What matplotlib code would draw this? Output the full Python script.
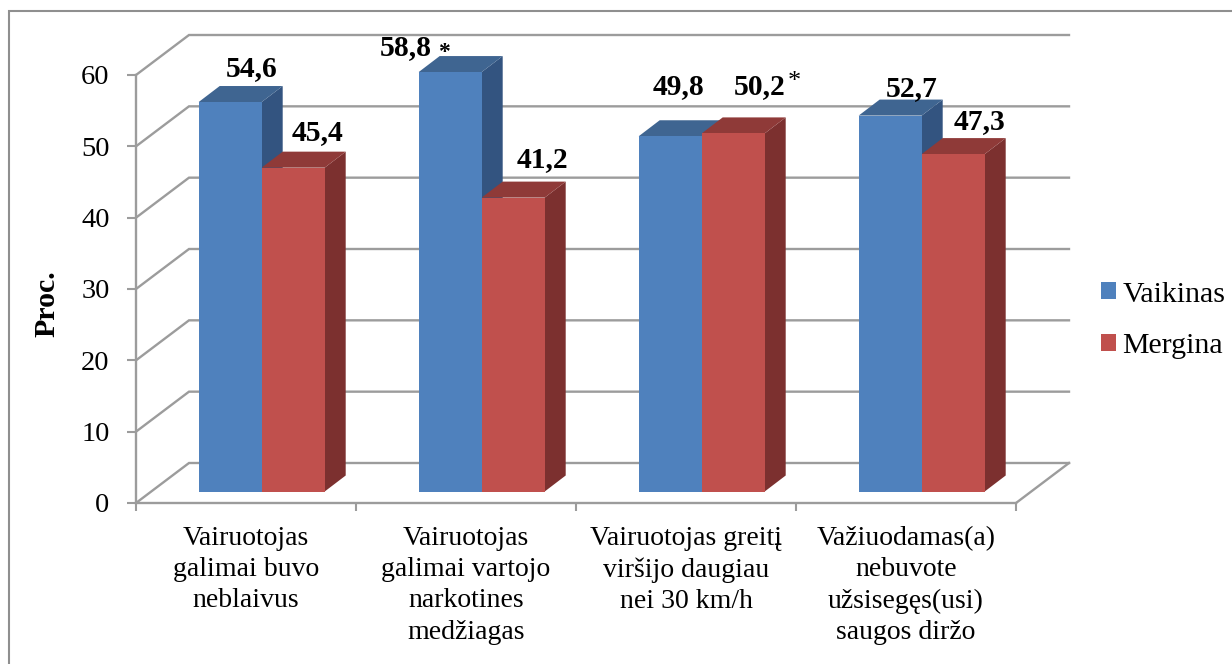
import matplotlib
matplotlib.use("Agg")
import matplotlib.pyplot as plt
from matplotlib.patches import Polygon, Rectangle

categories = [
    "Vairuotojas\ngalimai buvo\nneblaivus",
    "Vairuotojas\ngalimai vartojo\nnarkotines\nmedžiagas",
    "Vairuotojas greitį\nviršijo daugiau\nnei 30 km/h",
    "Važiuodamas(a)\nnebuvote\nužsisegęs(usi)\nsaugos diržo",
]
vaikinas = [54.6, 58.8, 49.8, 52.7]
mergina = [45.4, 41.2, 50.2, 47.3]
labels_v = ["54,6", "58,8", "49,8", "52,7"]
labels_m = ["45,4", "41,2", "50,2", "47,3"]
y_ticks = [0, 10, 20, 30, 40, 50, 60]

W, H = 1232, 664
GREY = "#9c9c9c"
BLUE, BLUE_TOP, BLUE_SIDE = "#4f81bd", "#3f6591", "#335480"
RED, RED_TOP, RED_SIDE = "#c0504d", "#8f3a38", "#7c302f"

plt.rcParams["font.family"] = ["Liberation Serif", "DejaVu Serif"]

fig = plt.figure(figsize=(W / 100, H / 100), dpi=100)
fig.patch.set_facecolor("white")
# front plane of the fake 3d box
ax = fig.add_axes([136 / W, 1 - 503 / H, 880 / W, 428 / H])
ax.set_xlim(0, 4)
ax.set_ylim(0, 60)
ax.patch.set_alpha(0)

px_x = 4 / 880
px_y = 60 / 428
wall_dx, wall_dy = 53 * px_x, 40 * px_y
bar_w = 63 * px_x
base_dx, base_dy = 15 * px_x, 11.5 * px_y
depth_dx, depth_dy = 21 * px_x, 16 * px_y
gap = 47.7 * px_x

# walls
for v in y_ticks:
    ax.plot([0, wall_dx, 4 + wall_dx], [v, v + wall_dy, v + wall_dy],
            color=GREY, lw=1.7, clip_on=False, zorder=1, solid_joinstyle="miter")
ax.plot([4, 4 + wall_dx], [0, wall_dy], color=GREY, lw=1.7, clip_on=False, zorder=1)


def draw_bar(x, v, front, top, side):
    y0 = base_dy
    y1 = base_dy + v
    x1 = x + bar_w
    ax.add_patch(Polygon([(x1, y0), (x1 + depth_dx, y0 + depth_dy),
                          (x1 + depth_dx, y1 + depth_dy), (x1, y1)],
                         fc=side, ec="none", clip_on=False, zorder=3))
    ax.add_patch(Polygon([(x, y1), (x + depth_dx, y1 + depth_dy),
                          (x1 + depth_dx, y1 + depth_dy), (x1, y1)],
                         fc=top, ec="none", clip_on=False, zorder=3))
    ax.bar(x, v, bar_w, bottom=y0, align="edge", color=front, clip_on=False, zorder=3)


for i in range(4):
    x = i + base_dx + gap
    draw_bar(x, vaikinas[i], BLUE, BLUE_TOP, BLUE_SIDE)
    draw_bar(x + bar_w, mergina[i], RED, RED_TOP, RED_SIDE)

# value labels sit by hand around the bars, offsets in pixels
off_v = [(21, 25.5), (-44, 17), (8, 42), (21, 20)]
off_m = [(24, 27.5), (29, 31), (26.5, 39), (26, 25.5)]
for i in range(4):
    x = i + base_dx + gap + bar_w / 2
    ax.annotate(labels_v[i], (x, base_dy + vaikinas[i]), xytext=off_v[i],
                textcoords="offset pixels", ha="center", va="baseline",
                fontsize=21.3, fontweight="bold", color="black", zorder=5,
                annotation_clip=False)
    ax.annotate(labels_m[i], (x + bar_w, base_dy + mergina[i]), xytext=off_m[i],
                textcoords="offset pixels", ha="center", va="baseline",
                fontsize=21.3, fontweight="bold", color="black", zorder=5,
                annotation_clip=False)

# asterisks next to two of the labels
ax.annotate("*", (1 + base_dx + gap + bar_w / 2, base_dy + vaikinas[1]), xytext=(-6, 14),
            textcoords="offset pixels", ha="center", va="baseline", fontsize=17,
            fontweight="bold", annotation_clip=False)
ax.annotate("*", (2 + base_dx + gap + bar_w * 1.5, base_dy + mergina[2]), xytext=(61, 45),
            textcoords="offset pixels", ha="center", va="baseline", fontsize=19,
            annotation_clip=False)

for s in ["top", "right"]:
    ax.spines[s].set_visible(False)
for s in ["left", "bottom"]:
    ax.spines[s].set_color(GREY)
    ax.spines[s].set_linewidth(1.7)
    ax.spines[s].set_zorder(2)

ax.set_yticks(y_ticks)
ax.tick_params(axis="y", length=6.5, width=1.5, color=GREY, pad=12.5, labelsize=20.5)
ax.set_xticks([0.5, 1.5, 2.5, 3.5])
ax.set_xticklabels(categories, fontsize=20, linespacing=1.33, va="top")
ax.set_xticks([0, 1, 2, 3, 4], minor=True)
ax.tick_params(axis="x", which="major", length=0, pad=16.5)
ax.tick_params(axis="x", which="minor", length=6, width=1.5, color=GREY)

fig.text(47 / W, 1 - 304 / H, "Proc.", rotation=90, ha="center", va="center",
         fontsize=21.5, fontweight="bold")

handles = [Rectangle((0, 0), 1, 1, fc=BLUE), Rectangle((0, 0), 1, 1, fc=RED)]
fig.legend(handles, ["Vaikinas", "Mergina"], loc="center left",
           bbox_to_anchor=(1101 / W, 1 - 320.5 / H), frameon=False, fontsize=21.5,
           handlelength=0.5, handleheight=0.5, handletextpad=0.22,
           labelspacing=0.87, borderpad=0, borderaxespad=0)

# outer chart frame, runs off the right and bottom of the picture
fig.add_artist(Rectangle((9 / W, -0.1), 1.2, 1.1 - 11 / H, transform=fig.transFigure,
                         fc="none", ec="#8f8f8f", lw=1.5))

fig.savefig("out.png", dpi=100)
